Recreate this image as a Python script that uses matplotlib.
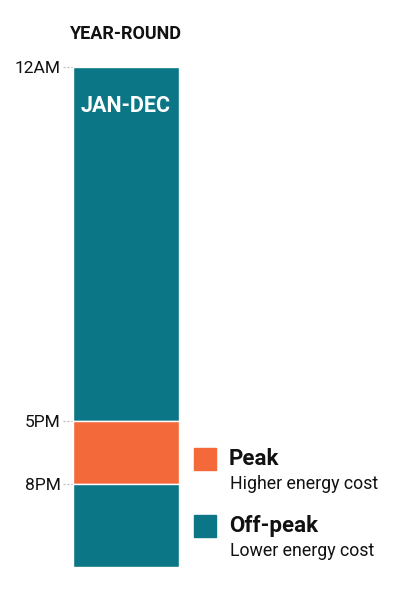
import matplotlib
matplotlib.use("Agg")
import matplotlib.pyplot as plt
from matplotlib.patches import Rectangle
import matplotlib.transforms as mtransforms

# Data
segment_starts = [0, 17, 20]      # hours from midnight
segment_lengths = [17, 3, 4]
segment_types = ["Off-peak", "Peak", "Off-peak"]
tick_hours = [0, 17, 20]
tick_labels = ["12AM", "5PM", "8PM"]
column_title = "YEAR-ROUND"
column_label = "JAN-DEC"
legend_names = ["Peak", "Off-peak"]
legend_desc = ["Higher energy cost", "Lower energy cost"]

colors = {"Peak": "#f4693a", "Off-peak": "#0b7686"}
FONT = "Roboto"

W, H = 393, 600
fig = plt.figure(figsize=(W / 100, H / 100), dpi=100)
ax = fig.add_axes([73 / W, (H - 567) / H, 106 / W, 500 / H])

ax.bar([0] * len(segment_starts), segment_lengths, bottom=segment_starts, width=1.0,
       color=[colors[t] for t in segment_types], edgecolor="white", linewidth=1.0)
ax.set_xlim(-0.5, 0.5)
ax.set_ylim(24, 0)
for s in ax.spines.values():
    s.set_visible(False)
ax.set_xticks([])
ax.set_yticks(tick_hours)
ax.set_yticklabels(tick_labels, fontfamily=FONT, fontsize=12.5, color="#111111")
ax.tick_params(axis="y", length=0, pad=9)

trans = mtransforms.blended_transform_factory(ax.transAxes, ax.transData)
for h in tick_hours:
    ax.plot([-0.095, -0.005], [h, h], transform=trans, color="#bbbbbb", lw=0.8,
            ls=(0, (2, 1.5)), clip_on=False)

ax.text(0.5, 1.0 + 33 / 500, column_title, transform=ax.transAxes, ha="center", va="center",
        fontfamily=FONT, fontweight="bold", fontsize=13, color="#111111")
ax.text(0.5, 1.0 - 39 / 500, column_label, transform=ax.transAxes, ha="center", va="center",
        fontfamily=FONT, fontweight="bold", fontsize=15.5, color="white")

def fx(px):
    return px / W

def fy(py):
    return 1 - py / H

leg_y = [459, 526]
for name, desc, y in zip(legend_names, legend_desc, leg_y):
    fig.patches.append(Rectangle((fx(194), fy(y + 11)), 22 / W, 22 / H,
                                 transform=fig.transFigure, color=colors[name]))
    fig.text(fx(229), fy(y), name, ha="left", va="center", fontfamily=FONT,
             fontweight="bold", fontsize=16, color="#111111")
    fig.text(fx(230), fy(y + 25), desc, ha="left", va="center", fontfamily=FONT,
             fontsize=12.8, color="#111111")

fig.savefig("out.png", dpi=100, facecolor="white")
